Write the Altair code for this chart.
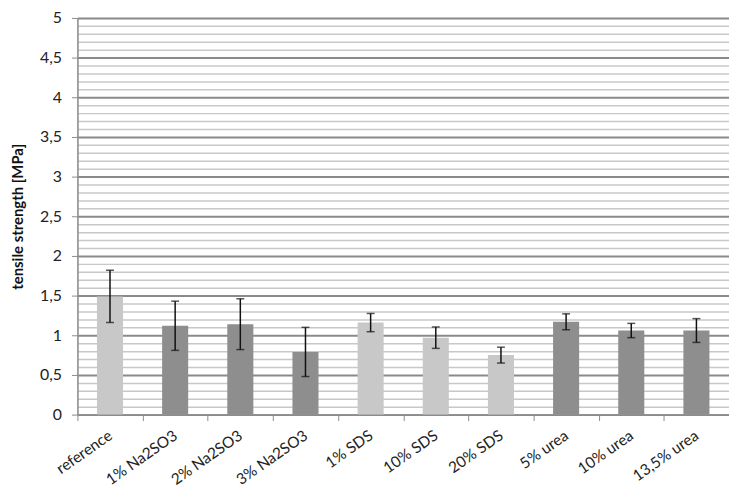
import altair as alt
import pandas as pd

categories = ["reference", "1% Na2SO3", "2% Na2SO3", "3% Na2SO3", "1% SDS",
              "10% SDS", "20% SDS", "5% urea", "10% urea", "13,5% urea"]
values = [1.49, 1.12, 1.14, 0.79, 1.16, 0.97, 0.75, 1.17, 1.06, 1.06]
errors = [0.33, 0.31, 0.32, 0.31, 0.115, 0.135, 0.10, 0.10, 0.09, 0.15]
groups = ["light", "dark", "dark", "dark", "light", "light", "light", "dark", "dark", "dark"]
y_ticks = [round(i * 0.1, 1) for i in range(51)]

df = pd.DataFrame({"cat": categories, "val": values, "err": errors, "grp": groups})
df["lo"] = df["val"] - df["err"]
df["hi"] = df["val"] + df["err"]

FONT = "Lato"
major = "abs(datum.value*2 - round(datum.value*2)) < 0.001"

x = alt.X("cat:N", sort=categories, title=None,
          scale=alt.Scale(paddingInner=0, paddingOuter=0),
          axis=alt.Axis(labelAngle=-35, labelAlign="right", labelBaseline="middle",
                        labelPadding=13, tickBand="extent", tickSize=6,
                        tickColor="#8c8c8c", domainColor="#8c8c8c", domainWidth=1.5,
                        labelFont=FONT, labelFontSize=15.5, labelColor="#222",
                        labelOverlap=False, grid=False))

y = alt.Y("val:Q", title="tensile strength [MPa]",
          scale=alt.Scale(domain=[0, 5], nice=False),
          axis=alt.Axis(values=y_ticks, tickCount=len(y_ticks), labelOverlap=False,
                        labelExpr=f"{major} ? replace(format(datum.value, '~g'), '.', ',') : ''",
                        grid=True,
                        gridColor={"condition": {"test": major, "value": "#8a8a8a"}, "value": "#c8c8c8"},
                        gridWidth={"condition": {"test": major, "value": 2}, "value": 1.5},
                        tickOpacity={"condition": {"test": major, "value": 1}, "value": 0},
                        tickColor="#8c8c8c", tickSize=6, labelPadding=10,
                        domainColor="#8c8c8c", domainWidth=1.5,
                        labelFont=FONT, labelFontSize=16, labelColor="#222",
                        titleFont=FONT, titleFontSize=15, titleFontWeight="bold",
                        titleColor="#111", titlePadding=14))

bars = alt.Chart(df).mark_bar(width=alt.RelativeBandSize(0.4)).encode(
    x=x, y=y,
    color=alt.Color("grp:N", scale=alt.Scale(domain=["light", "dark"],
                                             range=["#c8c8c8", "#8e8e8e"]), legend=None),
)

rules = alt.Chart(df).mark_rule(color="#111", strokeWidth=1.5).encode(
    x=alt.X("cat:N", sort=categories), y="lo:Q", y2="hi:Q")

caps_lo = alt.Chart(df).mark_tick(color="#111", thickness=1.5, size=8, orient="horizontal").encode(
    x=alt.X("cat:N", sort=categories), y="lo:Q")
caps_hi = alt.Chart(df).mark_tick(color="#111", thickness=1.5, size=8, orient="horizontal").encode(
    x=alt.X("cat:N", sort=categories), y="hi:Q")

chart = alt.layer(bars, rules, caps_lo, caps_hi).properties(
    width=657, height=400,
    autosize=alt.AutoSizeParams(type="none"),
    padding={"left": 70, "top": 8, "right": 0, "bottom": 74},
).configure_view(stroke=None).configure(background="white")

chart.save("out.html", embed_options={"renderer": "svg", "actions": False})
